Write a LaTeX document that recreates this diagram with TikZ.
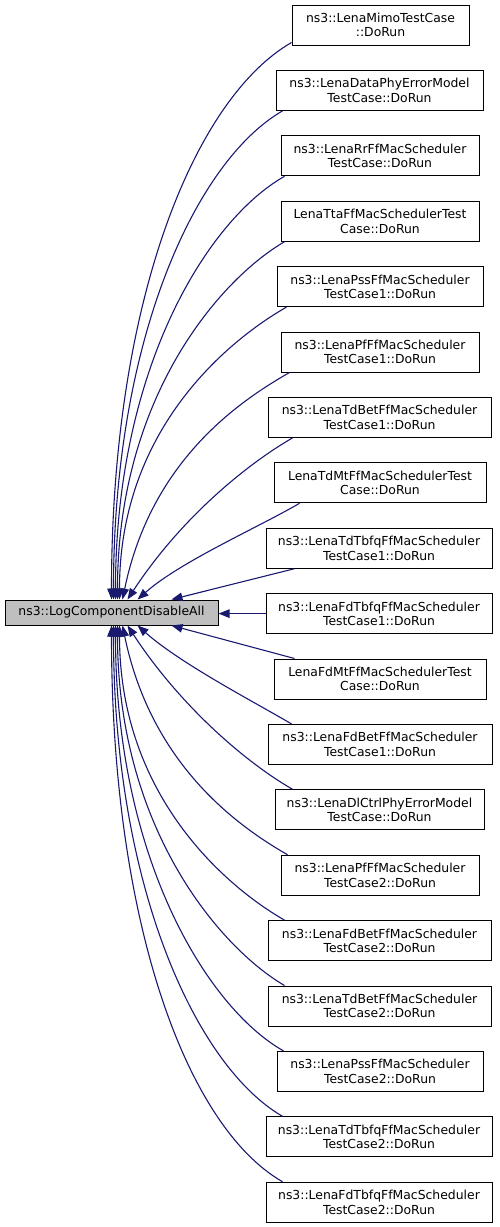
\documentclass[tikz,border=0pt]{standalone}
\usepackage{fontspec}
\setmainfont{DejaVu Sans}
\usetikzlibrary{arrows.meta,calc}
\definecolor{edgeblue}{HTML}{191970}
\definecolor{mainfill}{HTML}{BFBFBF}
\tikzset{
  box/.style={draw=black, line width=1pt, fill=white, minimum height=40, inner sep=0pt,
    align=center, font=\fontsize{12.4}{14.4}\selectfont},
  mainbox/.style={box, fill=mainfill, minimum height=25},
  edge/.style={draw=edgeblue, line width=1.1pt, -{Triangle[length=11pt,width=8.5pt]}},
}
\begin{document}
\begin{tikzpicture}[x=1pt, y=-1pt]
\useasboundingbox (0,0) rectangle (499,1227);
\node[mainbox, minimum width=213] (main) at (111.5,612.5) {ns3::LogComponentDisableAll};
\node[box, minimum width=177] (b1) at (380.5,25) {ns3::LenaMimoTestCase\\::DoRun};
\node[box, minimum width=207] (b2) at (379.5,90.4) {ns3::LenaDataPhyErrorModel\\TestCase::DoRun};
\node[box, minimum width=198] (b3) at (380,155.8) {ns3::LenaRrFfMacScheduler\\TestCase::DoRun};
\node[box, minimum width=198] (b4) at (380,221.2) {LenaTtaFfMacSchedulerTest\\Case::DoRun};
\node[box, minimum width=206] (b5) at (380,286.6) {ns3::LenaPssFfMacScheduler\\TestCase1::DoRun};
\node[box, minimum width=198] (b6) at (380,352) {ns3::LenaPfFfMacScheduler\\TestCase1::DoRun};
\node[box, minimum width=223] (b7) at (379.5,417.4) {ns3::LenaTdBetFfMacScheduler\\TestCase1::DoRun};
\node[box, minimum width=212] (b8) at (380,482.8) {LenaTdMtFfMacSchedulerTest\\Case::DoRun};
\node[box, minimum width=226] (b9) at (379,548.2) {ns3::LenaTdTbfqFfMacScheduler\\TestCase1::DoRun};
\node[box, minimum width=226] (b10) at (379,613.6) {ns3::LenaFdTbfqFfMacScheduler\\TestCase1::DoRun};
\node[box, minimum width=212] (b11) at (380,679) {LenaFdMtFfMacSchedulerTest\\Case::DoRun};
\node[box, minimum width=224] (b12) at (380,744.4) {ns3::LenaFdBetFfMacScheduler\\TestCase1::DoRun};
\node[box, minimum width=209] (b13) at (379.5,809.8) {ns3::LenaDlCtrlPhyErrorModel\\TestCase::DoRun};
\node[box, minimum width=198] (b14) at (380,875.2) {ns3::LenaPfFfMacScheduler\\TestCase2::DoRun};
\node[box, minimum width=223] (b15) at (379.5,940.6) {ns3::LenaFdBetFfMacScheduler\\TestCase2::DoRun};
\node[box, minimum width=223] (b16) at (379.5,1006) {ns3::LenaTdBetFfMacScheduler\\TestCase2::DoRun};
\node[box, minimum width=206] (b17) at (380,1071.4) {ns3::LenaPssFfMacScheduler\\TestCase2::DoRun};
\node[box, minimum width=226] (b18) at (379,1136.8) {ns3::LenaTdTbfqFfMacScheduler\\TestCase2::DoRun};
\node[box, minimum width=226] (b19) at (379,1202.2) {ns3::LenaFdTbfqFfMacScheduler\\TestCase2::DoRun};
% edges from upper boxes
\draw[edge] ($(b1.south west)+(0,-3)$) .. controls +(-97,56) and +(0,-299) .. ($(main.north west)+(107,0)$);
\draw[edge] ($(b2.south west)+(7,0)$) .. controls +(-85,49) and +(0,-264) .. ($(main.north west)+(109,0)$);
\draw[edge] ($(b3.south west)+(4,0)$) .. controls +(-76,43) and +(0,-233) .. ($(main.north west)+(111,0)$);
\draw[edge] ($(b4.south west)+(4,0)$) .. controls +(-65,38) and +(0,-202) .. ($(main.north west)+(113,0)$);
\draw[edge] ($(b5.south west)+(10,0)$) .. controls +(-56,32) and +(0,-172) .. ($(main.north west)+(115,0)$);
\draw[edge] ($(b6.south west)+(9,0)$) .. controls +(-47,27) and +(29,-141) .. ($(main.north west)+(118,0)$);
\draw[edge] ($(b7.south west)+(25,0)$) .. controls +(-50,29) and +(51,-78) .. ($(main.north west)+(123,0)$);
\draw[edge] ($(b8.south west)+(26,0)$) .. controls +(-41,24) and +(43,-38) .. ($(main.north west)+(133,0)$);
\draw[edge] ($(b9.south west)+(29,0)$) -- ($(main.north west)+(167,0)$);
\draw[edge] (b10.west) -- (b10.west -| main.east);
% edges from lower boxes
\draw[edge] ($(b11.north west)+(21,0)$) -- ($(main.south west)+(167,0)$);
\draw[edge] ($(b12.north west)+(24,0)$) .. controls +(-41,-24) and +(43,38) .. ($(main.south west)+(133,0)$);
\draw[edge] ($(b13.north west)+(18,0)$) .. controls +(-50,-29) and +(51,78) .. ($(main.south west)+(123,0)$);
\draw[edge] ($(b14.north west)+(7,0)$) .. controls +(-47,-27) and +(29,141) .. ($(main.south west)+(118,0)$);
\draw[edge] ($(b15.north west)+(17,0)$) .. controls +(-56,-32) and +(0,172) .. ($(main.south west)+(115,0)$);
\draw[edge] ($(b16.north west)+(17,0)$) .. controls +(-65,-38) and +(0,202) .. ($(main.south west)+(113,0)$);
\draw[edge] ($(b17.north west)+(7,0)$) .. controls +(-76,-43) and +(0,233) .. ($(main.south west)+(111,0)$);
\draw[edge] ($(b18.north west)+(17,0)$) .. controls +(-85,-49) and +(0,264) .. ($(main.south west)+(109,0)$);
\draw[edge] ($(b19.north west)+(17,0)$) .. controls +(-96,-55) and +(0,297) .. ($(main.south west)+(107,0)$);
\end{tikzpicture}
\end{document}
